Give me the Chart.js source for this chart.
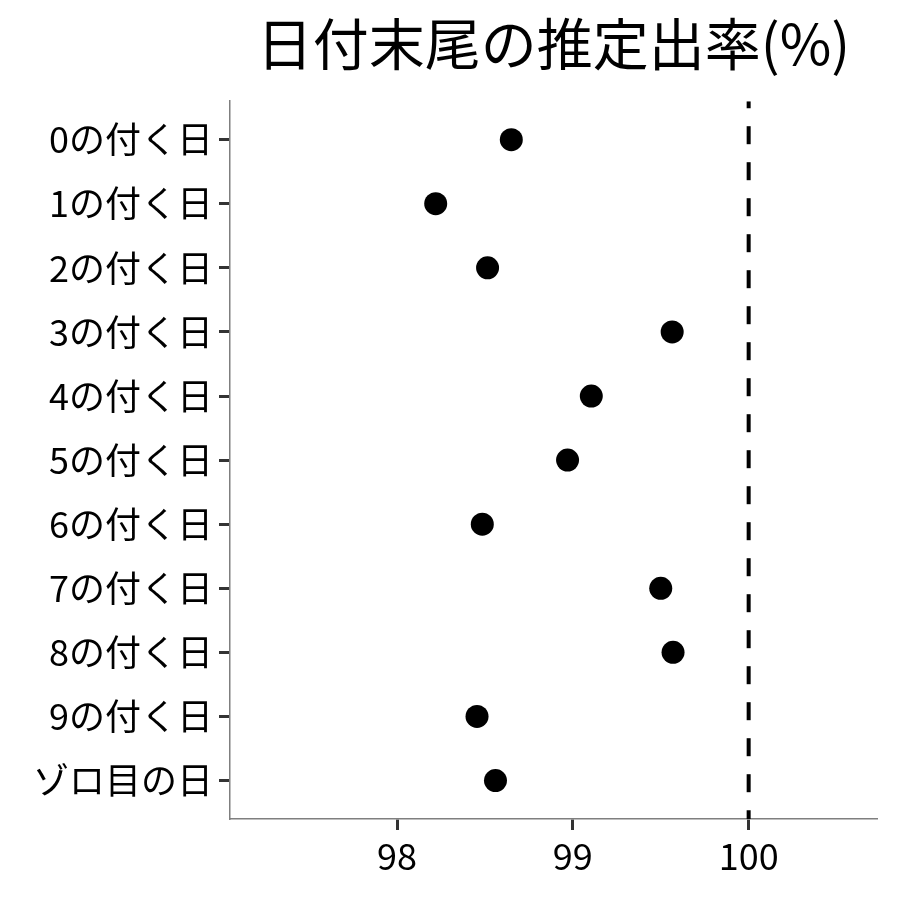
<!DOCTYPE html>
<html lang="ja">
<head>
    <meta charset="UTF-8">
    <title>日付末尾の推定出率</title>
    <script src="https://cdn.jsdelivr.net/npm/chart.js"></script>
    <style>
        body {
            margin: 0;
            background: #fff;
        }
        #wrap {
            width: 900px;
            height: 900px;
        }
    </style>
</head>
<body>
    <div id="wrap">
        <canvas id="rateChart" width="900" height="900"></canvas>
    </div>

    <script>
        // categories, top to bottom
        var categories = ['0の付く日', '1の付く日', '2の付く日', '3の付く日', '4の付く日',
            '5の付く日', '6の付く日', '7の付く日', '8の付く日', '9の付く日', 'ゾロ目の日'];
        // estimated payout rate (%)
        var rates = [98.65, 98.22, 98.515, 99.565, 99.105, 98.97, 98.485, 99.50, 99.57, 98.455, 98.56];
        var xTicks = [98, 99, 100];
        var refLine = 100;
        var xMin = 97.05, xMax = 100.73;
        var yMin = -0.6, yMax = categories.length - 0.4;

        var font = "'Noto Sans CJK JP', 'Noto Sans', sans-serif";

        var ctx = document.getElementById('rateChart').getContext('2d');
        var rateChart = new Chart(ctx, {
            type: 'scatter',
            data: {
                datasets: [{
                    label: '推定出率',
                    data: rates.map(function (v, i) { return { x: v, y: i }; }),
                    backgroundColor: '#000',
                    borderWidth: 0,
                    pointRadius: 11.5,
                    pointHoverRadius: 11.5
                }, {
                    label: '100%',
                    data: [{ x: refLine, y: yMin }, { x: refLine, y: yMax }],
                    showLine: true,
                    borderColor: '#000',
                    borderWidth: 4,
                    borderDash: [18, 18],
                    borderDashOffset: 11,
                    pointRadius: 0
                }]
            },
            options: {
                responsive: false,
                animation: false,
                layout: {
                    padding: { left: 0, right: 23, top: 0, bottom: 0 }
                },
                plugins: {
                    legend: { display: false },
                    tooltip: { enabled: false },
                    title: {
                        display: true,
                        text: '日付末尾の推定出率(%)',
                        fullSize: false,
                        color: '#000',
                        font: { family: font, size: 56, weight: 'normal' },
                        padding: { top: 10, bottom: 24 }
                    }
                },
                scales: {
                    x: {
                        type: 'linear',
                        min: xMin,
                        max: xMax,
                        afterBuildTicks: function (axis) {
                            axis.ticks = xTicks.map(function (v) { return { value: v }; });
                        },
                        afterFit: function (axis) { axis.height = 81; },
                        grid: {
                            drawOnChartArea: false,
                            drawTicks: true,
                            tickLength: 11,
                            tickWidth: 3,
                            tickColor: '#333'
                        },
                        border: { color: '#7f7f7f', width: 1.5 },
                        ticks: {
                            color: '#000',
                            padding: 5,
                            font: { family: font, size: 36 }
                        }
                    },
                    y: {
                        type: 'linear',
                        min: yMin,
                        max: yMax,
                        reverse: true,
                        afterBuildTicks: function (axis) {
                            axis.ticks = categories.map(function (c, i) { return { value: i }; });
                        },
                        afterFit: function (axis) { axis.width = 230; },
                        grid: {
                            drawOnChartArea: false,
                            drawTicks: true,
                            tickLength: 11,
                            tickWidth: 3,
                            tickColor: '#333'
                        },
                        border: { color: '#7f7f7f', width: 1.5 },
                        ticks: {
                            color: '#000',
                            padding: 6,
                            font: { family: font, size: 36 },
                            callback: function (v) { return categories[v]; }
                        }
                    }
                }
            }
        });
    </script>
</body>
</html>
